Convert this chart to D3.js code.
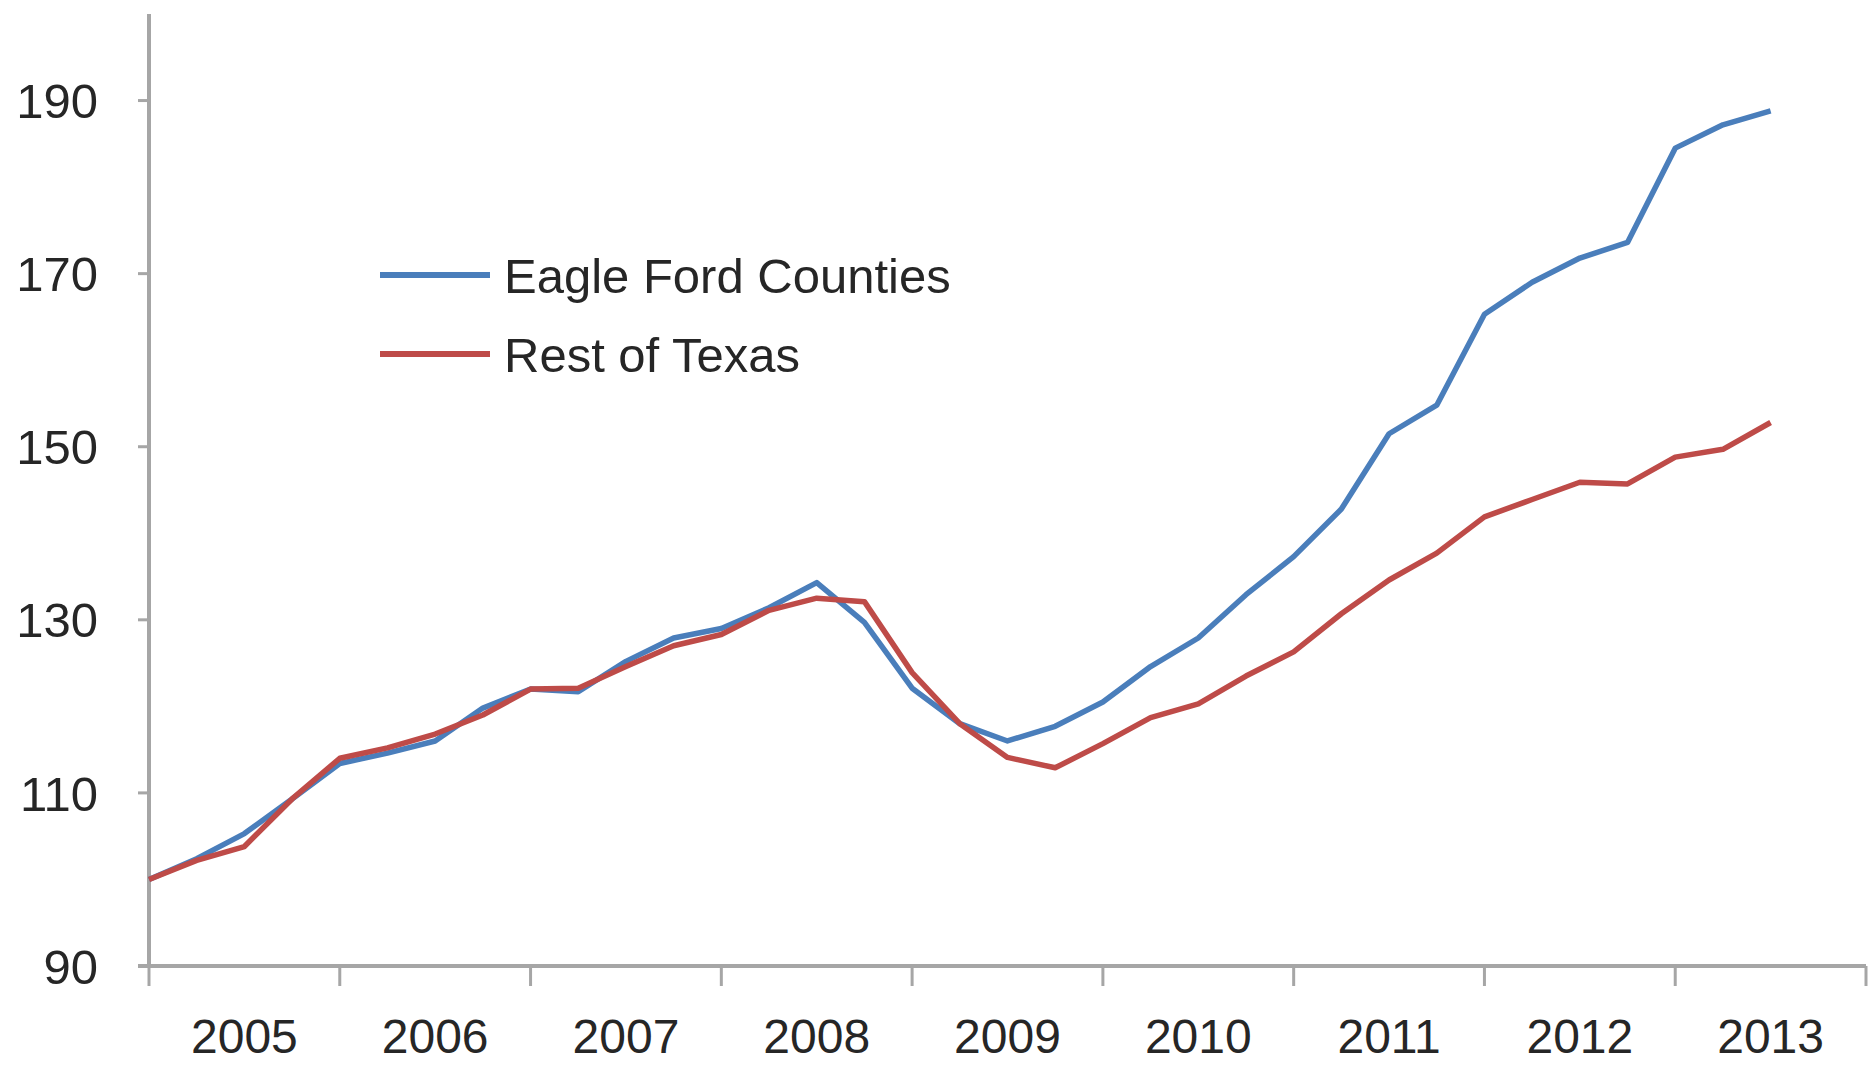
<!DOCTYPE html>
<html>
<head>
<meta charset="utf-8">
<script src="https://cdn.jsdelivr.net/npm/d3@7"></script>
<style>
  body { margin: 0; background: #fff; }
  text { font-family: "Liberation Sans", Arial, sans-serif; fill: #262626; }
</style>
</head>
<body>
<svg id="chart" width="1874" height="1067"></svg>
<script>
// data, quarterly index (2005Q1 = 100)
var years = ["2005", "2006", "2007", "2008", "2009", "2010", "2011", "2012", "2013"];
var yTicks = [90, 110, 130, 150, 170, 190];
var seriesNames = ["Eagle Ford Counties", "Rest of Texas"];
var eagleFord = [100, 102.4, 105.3, 109.3, 113.4, 114.6, 116, 119.8,
	122, 121.7, 125.2, 127.9, 129, 131.4, 134.3, 129.7,
	122.1, 118, 116, 117.7, 120.5, 124.6, 127.9, 132.9,
	137.3, 142.8, 151.5, 154.8, 165.3, 169, 171.8, 173.6,
	184.5, 187.2, 188.8];
var restOfTexas = [100, 102.2, 103.8, 109.3, 114, 115.2, 116.8, 119,
	122, 122.1, 124.6, 127, 128.3, 131.1, 132.5, 132.1,
	123.9, 118, 114.1, 112.9, 115.7, 118.7, 120.3, 123.5,
	126.3, 130.7, 134.6, 137.7, 141.9, 143.9, 145.9, 145.7,
	148.8, 149.7, 152.8];
var colors = ["#4a7ebb", "#be4b48"];

var svg = d3.select("#chart");
var plotLeft = 149, plotRight = 1866, plotTop = 14, plotBottom = 966;
var axisColor = "#a6a6a6";

// scales
var xYear = d3.scaleBand().domain(years).range([plotLeft, plotRight]).paddingInner(0).paddingOuter(0);
var y = d3.scaleLinear().domain([90, 200]).range([plotBottom, plotTop]);

function xq(i) {
	var yr = years[Math.floor(i / 4)];
	return xYear(yr) + (i % 4) * xYear.bandwidth() / 4;
}

// y axis
svg.append("line")
	.attr("x1", plotLeft).attr("x2", plotLeft)
	.attr("y1", plotTop).attr("y2", plotBottom)
	.attr("stroke", axisColor).attr("stroke-width", 4);

var yg = svg.append("g").selectAll("g").data(yTicks).enter().append("g");
yg.append("line")
	.attr("x1", plotLeft - 11).attr("x2", plotLeft)
	.attr("y1", function(d) { return y(d); })
	.attr("y2", function(d) { return y(d); })
	.attr("stroke", axisColor).attr("stroke-width", 3);
yg.append("text")
	.attr("x", 98)
	.attr("y", function(d) { return y(d); })
	.attr("dy", "0.36em")
	.attr("text-anchor", "end")
	.style("font-size", "49px")
	.text(function(d) { return d; });

// x axis
svg.append("line")
	.attr("x1", plotLeft - 11).attr("x2", plotRight)
	.attr("y1", plotBottom).attr("y2", plotBottom)
	.attr("stroke", axisColor).attr("stroke-width", 4);

var bounds = years.map(function(d) { return xYear(d); }).concat([plotRight]);
svg.append("g").selectAll("line").data(bounds).enter().append("line")
	.attr("x1", function(d) { return d; })
	.attr("x2", function(d) { return d; })
	.attr("y1", plotBottom).attr("y2", plotBottom + 20)
	.attr("stroke", axisColor).attr("stroke-width", 3);

svg.append("g").selectAll("text").data(years).enter().append("text")
	.attr("x", function(d) { return xYear(d) + xYear.bandwidth() / 2; })
	.attr("y", 1053)
	.attr("text-anchor", "middle")
	.style("font-size", "48px")
	.text(function(d) { return d; });

// lines
var line = d3.line()
	.x(function(d, i) { return xq(i); })
	.y(function(d) { return y(d); });

[eagleFord, restOfTexas].forEach(function(s, k) {
	svg.append("path")
		.datum(s)
		.attr("d", line)
		.attr("fill", "none")
		.attr("stroke", colors[k])
		.attr("stroke-width", 5.5)
		.attr("stroke-linejoin", "round");
});

// legend
var legend = svg.append("g").selectAll("g").data(seriesNames).enter().append("g")
	.attr("transform", function(d, i) { return "translate(380," + (275 + i * 79) + ")"; });
legend.append("line")
	.attr("x1", 0).attr("x2", 110)
	.attr("stroke", function(d, i) { return colors[i]; })
	.attr("stroke-width", 6);
legend.append("text")
	.attr("x", 124)
	.attr("dy", "0.36em")
	.style("font-size", "49px")
	.text(function(d) { return d; });
</script>
</body>
</html>
